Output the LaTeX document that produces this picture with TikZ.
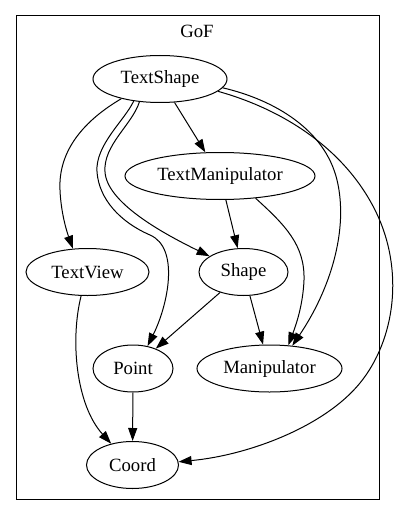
\documentclass[tikz,border=0pt]{standalone}
\usepackage{fontspec}
\setmainfont{Liberation Serif}
\usepackage{tikz}
\usetikzlibrary{shapes.geometric,arrows.meta}

\begin{document}
\begin{tikzpicture}[
  x=1pt, y=-1pt,
  cls/.style={draw, ellipse, line width=1pt, inner sep=0pt, minimum height=47pt, font=\fontsize{18.7}{22}\selectfont},
  grp/.style={draw, line width=1pt},
  lab/.style={font=\fontsize{18.7}{22}\selectfont},
  arr/.style={-{Triangle[length=13pt, width=9pt]}, line width=1pt}]
  \useasboundingbox (0,0) rectangle (401,516);
  \draw[grp] (16,16) rectangle (379,499);
  \node[lab] (gof) at (197,31) {GoF};
  \node[cls, minimum width=134pt] (ts) at (160,79) {TextShape};
  \node[cls, minimum width=190pt] (tm) at (220,176) {TextManipulator};
  \node[cls, minimum width=123pt] (tv) at (87.5,272) {TextView};
  \node[cls, minimum width=89pt] (sh) at (243.5,272) {Shape};
  \node[cls, minimum width=80pt] (pt) at (133,368.5) {Point};
  \node[cls, minimum width=145pt] (man) at (269.5,368.5) {Manipulator};
  \node[cls, minimum width=92pt] (crd) at (132.5,465) {Coord};
  \draw[arr] (ts) -- (tm); \draw[arr] (tm) -- (sh);
  \draw[arr] (sh) -- (pt); \draw[arr] (sh) -- (man); \draw[arr] (pt) -- (crd);
  \draw[arr] (ts.-153) .. controls (85,120) and (58,150) .. (60,190) .. controls (61,215) and (68,235) .. (tv.122);
  \draw[arr] (ts.-140) .. controls (125,120) and (95,145) .. (97,172) .. controls (99,199) and (120,222) .. (150,235) .. controls (180,248) and (168,305) .. (pt.57);
  \draw[arr] (ts.-132) .. controls (132,125) and (103,145) .. (105,172) .. controls (107,202) and (160,232) .. (sh.155);
  \draw[arr] (ts.-8) .. controls (275,100) and (325,130) .. (337,180) .. controls (349,230) and (330,290) .. (man.45);
  \draw[arr] (ts.-12) .. controls (285,110) and (345,150) .. (375,210) .. controls (405,270) and (395,340) .. (360,383) .. controls (325,426) and (250,455) .. (crd.4);
  \draw[arr] (tm.-32) .. controls (285,225) and (305,245) .. (304,280) .. controls (303,305) and (296,325) .. (man.51);
  \draw[arr] (tv.-105) .. controls (70,340) and (76,405) .. (crd.135);
\end{tikzpicture}
\end{document}
